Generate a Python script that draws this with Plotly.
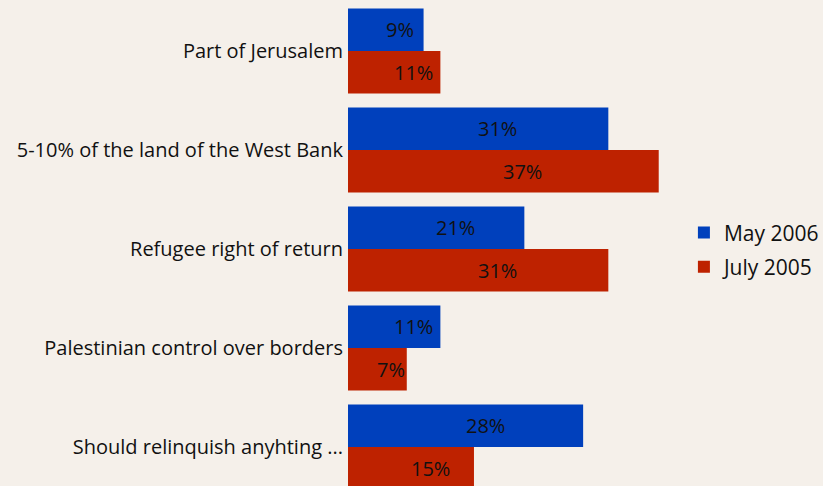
import plotly.graph_objects as go

categories = [
    "Part of Jerusalem",
    "5-10% of the land of the West Bank",
    "Refugee right of return",
    "Palestinian control over borders",
    "Should relinquish anyhting ...",
]
may_2006 = [9, 31, 21, 11, 28]
july_2005 = [11, 37, 31, 7, 15]

BLUE = "#0040bc"
RED = "#be2200"
BG = "#f5f0ea"
FONT = "Open Sans"

fig = go.Figure()
fig.add_trace(go.Bar(y=categories, x=may_2006, name="May 2006", orientation="h",
                     legendgroup="a", marker=dict(color=BLUE, line=dict(width=0))))
fig.add_trace(go.Bar(y=categories, x=july_2005, name="July 2005", orientation="h",
                     legendgroup="b", marker=dict(color=RED, line=dict(width=0))))

bargap = 0.14
half = (1 - bargap) / 4  # offset of each bar's centre from the category centre

# value labels start at the middle of each bar
annotations = []
for i, (a, b) in enumerate(zip(may_2006, july_2005)):
    for v, off in ((a, -half), (b, half)):
        annotations.append(dict(x=v / 2, y=i + off, xref="x", yref="y",
                                text=f"{v}%", showarrow=False, xanchor="left",
                                xshift=-2,
                                font=dict(size=20, color="#111", family=FONT)))

fig.update_layout(
    barmode="group",
    bargap=bargap,
    bargroupgap=0,
    width=823, height=486,
    margin=dict(l=348, r=137, t=0, b=0),
    paper_bgcolor=BG,
    plot_bgcolor=BG,
    font=dict(family=FONT, size=20, color="#111"),
    annotations=annotations,
    legend=dict(xref="container", yref="container", x=0.831, y=0.486,
                yanchor="middle", xanchor="left",
                font=dict(size=21, color="#111"), bgcolor="rgba(0,0,0,0)",
                itemwidth=30, traceorder="grouped", tracegroupgap=4),
    showlegend=True,
)
fig.update_xaxes(range=[0, 40], visible=False)
fig.update_yaxes(range=[4.394, -0.515], showgrid=False, zeroline=False, showline=False,
                 ticks="", ticklabelstandoff=4)

fig.write_html("out.html", config={"displayModeBar": False},
               post_script="document.body.style.margin='0';")
